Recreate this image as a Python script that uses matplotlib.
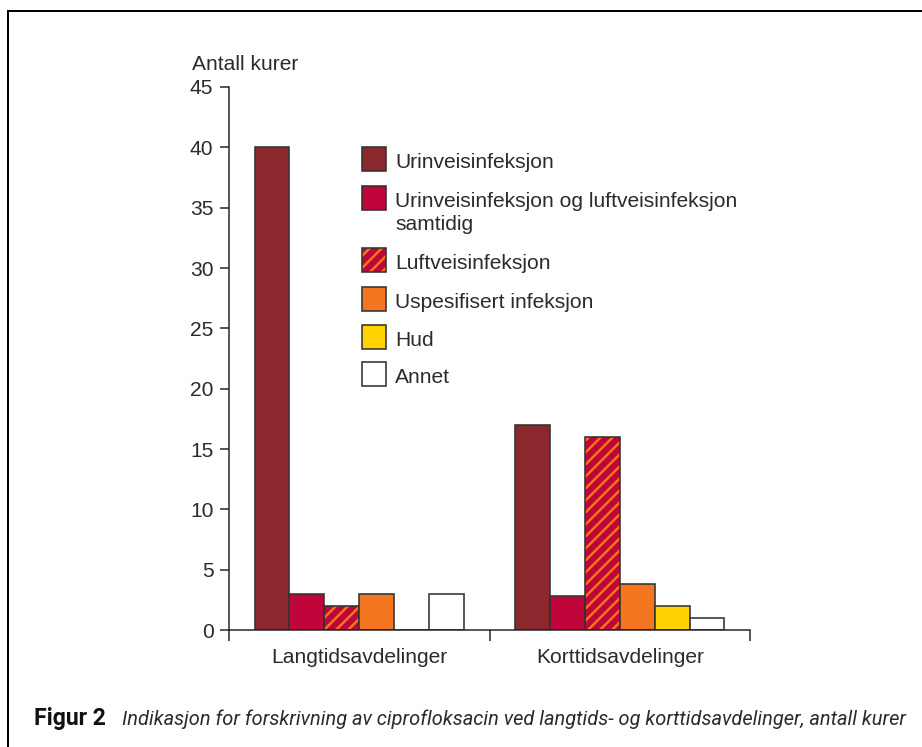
import matplotlib
matplotlib.use('Agg')
import matplotlib.pyplot as plt
import matplotlib.patches as patches
from matplotlib.lines import Line2D
import numpy as np

plt.rcParams['hatch.linewidth'] = 6
plt.rcParams['font.family'] = ['Liberation Sans', 'DejaVu Sans']

# data
groups = ['Langtidsavdelinger', 'Korttidsavdelinger']
series = ['Urinveisinfeksjon',
          'Urinveisinfeksjon og luftveisinfeksjon\nsamtidig',
          'Luftveisinfeksjon',
          'Uspesifisert infeksjon',
          'Hud',
          'Annet']
langtid = [40, 3, 2, 3, 0, 3]
korttid = [17, 2.8, 16, 3.8, 2, 1]
yticks = [0, 5, 10, 15, 20, 25, 30, 35, 40, 45]

colors = ['#8a282d', '#c0053b', '#f47621', '#f47621', '#ffd200', '#ffffff']
hatched = [False, False, True, False, False, False]
stripe = '#c0053b'
edge = '#333333'
txt = '#2b2b2b'
fs = 21

W, H, DPI = 922, 747, 72
fig = plt.figure(figsize=(W / DPI, H / DPI), dpi=DPI)

def fx(px):
    return px / W

def fy(py):
    return 1 - py / H

ax = fig.add_axes([fx(229), fy(630), fx(750) - fx(229), fy(87) - fy(630)])

bw = 0.134
xc = np.arange(len(groups)) + 0.5
for i in range(len(series)):
    x = xc + (i - 2.5) * bw
    vals = [langtid[i], korttid[i]]
    if hatched[i]:
        ax.bar(x, vals, bw, color=colors[i], edgecolor=stripe, hatch='//', linewidth=0, zorder=2)
        ax.bar(x, vals, bw, fill=False, edgecolor=edge, linewidth=1.6, zorder=3)
    else:
        ax.bar(x, vals, bw, color=colors[i], edgecolor=edge, linewidth=1.6, zorder=3)

ax.set_xlim(0, 2)
ax.set_ylim(0, 45)
ax.set_xticks([0, 1, 2])
ax.set_xticklabels([])
ax.set_yticks(yticks)
ax.set_yticklabels([str(v) for v in yticks])
for s in ['top', 'right']:
    ax.spines[s].set_visible(False)
for s in ['left', 'bottom']:
    ax.spines[s].set_linewidth(1.5)
    ax.spines[s].set_color('#222222')
    ax.spines[s].set_zorder(4)
ax.tick_params(axis='x', direction='out', length=11, width=1.5, color='#222222')
ax.tick_params(axis='y', direction='out', length=9.5, width=1.5, color='#222222',
               pad=6, labelsize=fs, labelcolor=txt)

for g, x in zip(groups, xc):
    ax.text(x, (630 - 663) / 543, g, transform=ax.get_xaxis_transform(),
            ha='center', va='baseline', fontsize=fs, color=txt)

fig.text(fx(192), fy(70), 'Antall kurer', fontsize=fs, color=txt, va='baseline')

# legend
tops = [147, 186, 248, 287, 325, 362]
for i, lab in enumerate(series):
    t = tops[i]
    if hatched[i]:
        fig.add_artist(patches.Rectangle((fx(362), fy(t + 24)), fx(24), 24 / H,
                                         facecolor=colors[i], edgecolor=stripe, hatch='//',
                                         linewidth=0, transform=fig.transFigure))
        fig.add_artist(patches.Rectangle((fx(362), fy(t + 24)), fx(24), 24 / H,
                                         fill=False, edgecolor=edge, linewidth=1.6,
                                         transform=fig.transFigure))
    else:
        fig.add_artist(patches.Rectangle((fx(362), fy(t + 24)), fx(24), 24 / H,
                                         facecolor=colors[i], edgecolor=edge, linewidth=1.6,
                                         transform=fig.transFigure))
    for k, line in enumerate(lab.split('\n')):
        fig.text(fx(395), fy(t + 21 + k * 23.5), line, fontsize=fs, color=txt, va='baseline')

# frame
fig.add_artist(Line2D([fx(8), fx(8)], [fy(11), 0], lw=2, color='black'))
fig.add_artist(Line2D([fx(8), 1], [fy(11), fy(11)], lw=2, color='black'))

# caption
cap_font = ['Roboto', 'DejaVu Sans']
fig.text(fx(34), fy(725), 'Figur 2', fontsize=23, fontweight='bold', family=cap_font,
         color='#111111', va='baseline')
cap = fig.text(fx(122), fy(725),
               'Indikasjon for forskrivning av ciprofloksacin ved langtids- og korttidsavdelinger, antall kurer',
               fontsize=16, style='italic', family=cap_font, color=txt, va='baseline')
r = fig.canvas.get_renderer()
for _ in range(3):
    w = cap.get_window_extent(r).width
    cap.set_fontsize(cap.get_fontsize() * 784 / w)

fig.savefig('out.png', dpi=DPI)
